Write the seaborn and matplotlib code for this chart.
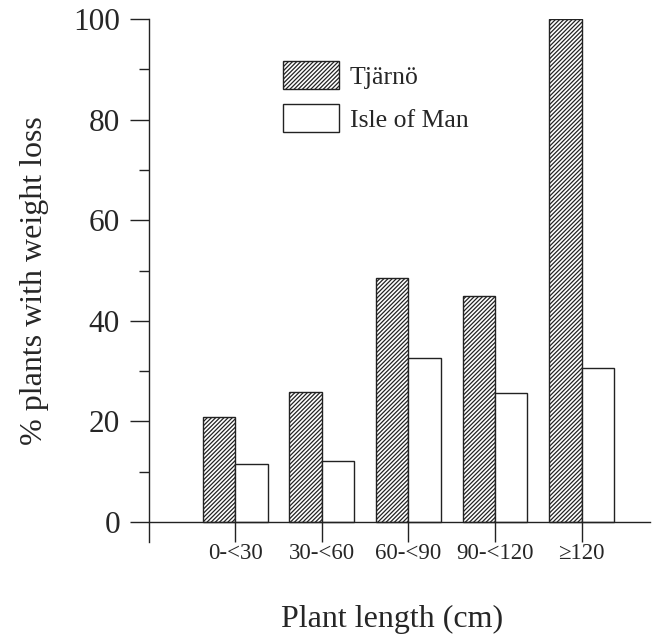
import matplotlib
matplotlib.use("Agg")
import matplotlib.pyplot as plt
import seaborn as sns
import pandas as pd
import numpy as np
from matplotlib.ticker import MultipleLocator, FixedLocator

categories = ["0-<30", "30-<60", "60-<90", "90-<120", "\u2265120"]
sites = ["Tjärnö", "Isle of Man"]
tjarno = [20.9, 25.9, 48.6, 45.0, 100.0]
isle_of_man = [11.5, 12.2, 32.7, 25.6, 30.7]
y_ticks = [0, 20, 40, 60, 80, 100]

df = pd.DataFrame({
    "length": categories * 2,
    "site": [sites[0]] * len(categories) + [sites[1]] * len(categories),
    "value": tjarno + isle_of_man,
})

sns.set_theme(style="white")
plt.rcParams["font.family"] = ["Liberation Serif", "DejaVu Serif"]
plt.rcParams["hatch.linewidth"] = 0.9
plt.rcParams["hatch.color"] = "#222222"

W, H = 652, 639
fig = plt.figure(figsize=(W / 100, H / 100), dpi=100)
fig.patch.set_facecolor("white")
L, R, T, B = 148.7, 650.0, 19.0, 541.7
ax = fig.add_axes([L / W, (H - B) / H, (R - L) / W, (B - T) / H])

sns.barplot(data=df, x="length", y="value", hue="site", order=categories,
            hue_order=sites, palette=["white", "white"], width=0.75,
            edgecolor="#222222", linewidth=1.0, saturation=1, legend=False, ax=ax)

for p in ax.containers[0]:
    p.set_hatch("////////")

ax.set_xlim(-1.0, 4.79)
ax.set_ylim(-3.9, 100)

for s in ["top", "right"]:
    ax.spines[s].set_visible(False)
for s in ["left", "bottom"]:
    ax.spines[s].set_color("#222222")
    ax.spines[s].set_linewidth(1.0)
ax.spines["bottom"].set_position(("data", 0))

ax.yaxis.set_major_locator(FixedLocator(y_ticks))
ax.yaxis.set_minor_locator(MultipleLocator(10))
ax.tick_params(axis="y", which="major", direction="out", length=13.7, width=1.0,
               color="#222222", labelsize=22.5, pad=7, left=True)
ax.tick_params(axis="y", which="minor", direction="out", length=7.2, width=1.0,
               color="#222222", left=True)
ax.tick_params(axis="x", which="major", direction="out", length=14.2, width=1.0,
               color="#222222", labelsize=16.5, pad=1, bottom=True)
ax.set_yticklabels([str(v) for v in y_ticks])

ax.set_xlabel("Plant length (cm)", fontsize=23, va="baseline")
ax.xaxis.set_label_coords((391.7 - L) / (R - L), (B - 626.7) / (B - T))
ax.set_ylabel("% plants with weight loss", fontsize=23, va="center", ha="center")
ax.yaxis.set_label_coords((35 - L) / (R - L), (B - 281) / (B - T))

handles = [ax.containers[0][0], ax.containers[1][0]]
ax.legend(handles, sites, loc="upper left",
          bbox_to_anchor=(282.7 / W, 1 - 61 / H), bbox_transform=fig.transFigure,
          frameon=False, fontsize=18.5, handlelength=2.2, handleheight=1.3,
          handletextpad=0.42, labelspacing=0.58, borderpad=0, borderaxespad=0)

fig.savefig("out.png", dpi=100, facecolor="white")
